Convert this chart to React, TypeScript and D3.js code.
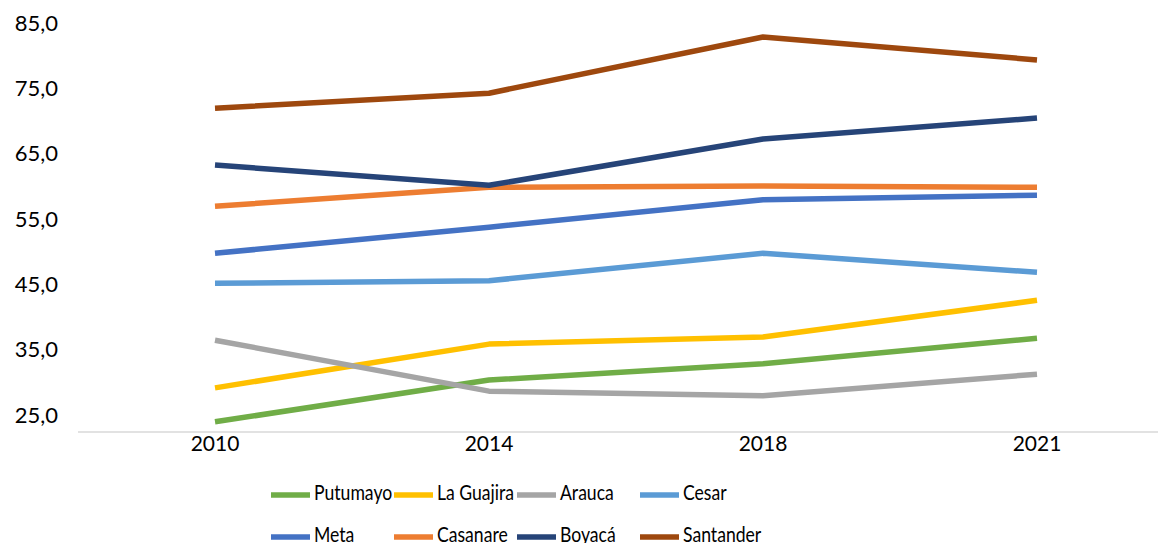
import React from "react";
import * as d3 from "d3";

const years = ["2010", "2014", "2018", "2021"];
const seriesNames = ["Putumayo", "La Guajira", "Arauca", "Cesar", "Meta", "Casanare", "Boyacá", "Santander"];
const colors = ["#70AD47", "#FFC000", "#A5A5A5", "#5B9BD5", "#4472C4", "#ED7D31", "#264478", "#9E480E"];
const putumayo = [23.8, 30.2, 32.7, 36.6];
const laGuajira = [29.0, 35.7, 36.8, 42.4];
const arauca = [36.3, 28.5, 27.8, 31.1];
const cesar = [45.0, 45.4, 49.6, 46.7];
const meta = [49.6, 53.6, 57.8, 58.5];
const casanare = [56.8, 59.7, 59.9, 59.7];
const boyaca = [63.1, 60.0, 67.1, 70.3];
const santander = [71.8, 74.1, 82.7, 79.2];
const yTicks = [25, 35, 45, 55, 65, 75, 85];

const allSeries = [putumayo, laGuajira, arauca, cesar, meta, casanare, boyaca, santander];

export default function App() {
  const W = 1158, H = 543;
  const font = "Lato, 'Open Sans', sans-serif";
  const x = d3.scaleBand<string>().domain(years).range([78, 1174]);
  const y = d3.scaleLinear().domain([25, 85]).range([414, 22]);
  const baseY = 432;
  const line = d3.line<number>()
    .x((_, i) => (x(years[i]) as number) + x.bandwidth() / 2)
    .y((d) => y(d));
  const fmt = (v: number) => v.toFixed(1).replace(".", ",");

  return (
    <svg width={W} height={H} style={{ position: "absolute", left: 0, top: 0, background: "#fff" }}>
      <line x1={78} x2={W} y1={baseY} y2={baseY} stroke="#D9D9D9" strokeWidth={1.5} />
      {yTicks.map((t) => (
        <text key={t} x={58} y={y(t)} textAnchor="end" dominantBaseline="central" fontFamily={font} fontSize={22} fill="#000">
          {fmt(t)}
        </text>
      ))}
      {years.map((yr) => (
        <text key={yr} x={(x(yr) as number) + x.bandwidth() / 2} y={442} textAnchor="middle" dominantBaseline="central" fontFamily={font} fontSize={21} fill="#000">
          {yr}
        </text>
      ))}
      {allSeries.map((s, i) => (
        <path key={seriesNames[i]} d={line(s) as string} fill="none" stroke={colors[i]} strokeWidth={5.5} strokeLinejoin="round" />
      ))}
      {seriesNames.map((n, i) => {
        const col = i % 4, row = Math.floor(i / 4);
        const sx = 271 + col * 123;
        const sy = 491 + row * 42;
        return (
          <g key={n}>
            <line x1={sx} x2={sx + 39} y1={sy + 4} y2={sy + 4} stroke={colors[i]} strokeWidth={5.5} />
            <text transform={`translate(${sx + 43},${sy}) scale(0.8,1)`} dominantBaseline="central" fontFamily={font} fontSize={22} fill="#000">{n}</text>
          </g>
        );
      })}
    </svg>
  );
}
